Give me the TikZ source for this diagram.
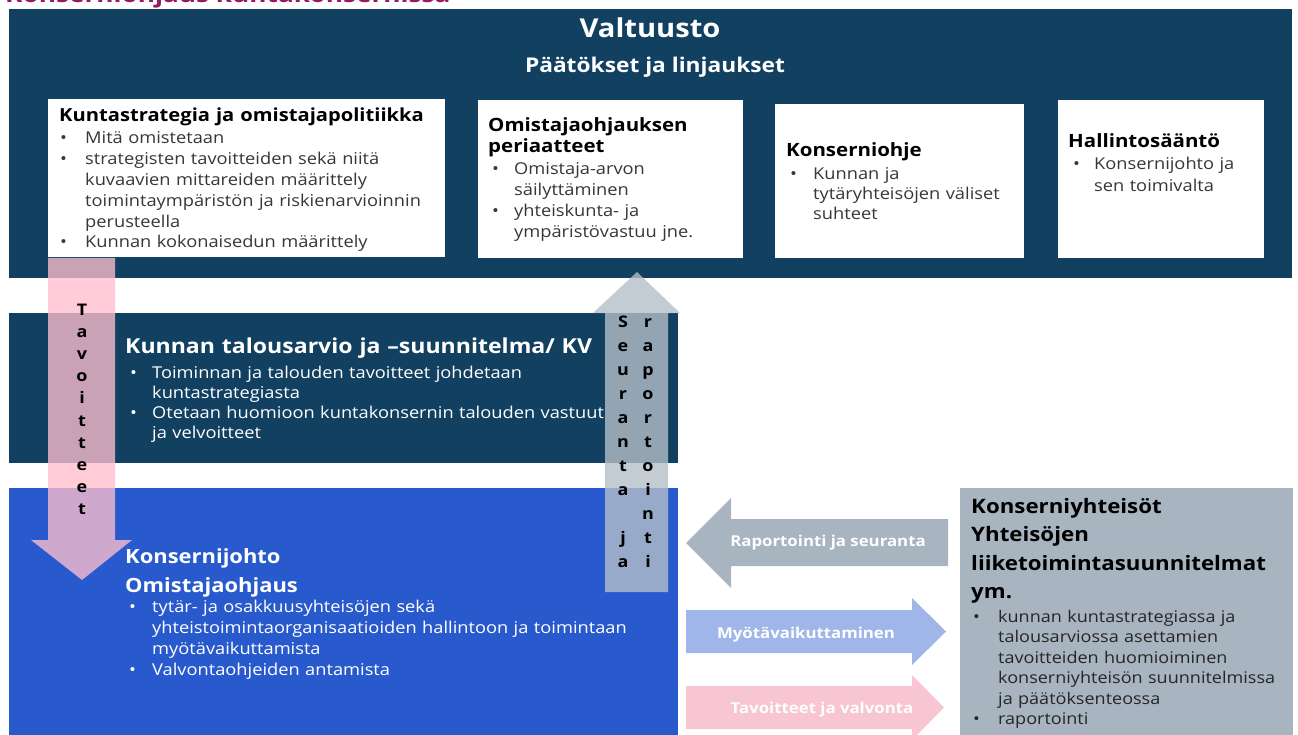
\documentclass[tikz,border=0pt]{standalone}
\usepackage{fontspec}
\setmainfont{Open Sans}[FakeStretch=1.12]
\definecolor{cNavy}{RGB}{17,64,97}
\definecolor{cBlue}{RGB}{40,90,205}
\definecolor{cGreyBox}{RGB}{168,180,192}
\definecolor{cLightBlue}{RGB}{160,182,232}
\definecolor{cPink}{RGB}{248,197,210}
\definecolor{cPinkA}{RGB}{255,190,205}
\definecolor{cGreyA}{RGB}{180,190,200}
\definecolor{cMagenta}{RGB}{150,25,95}
\definecolor{cBody}{RGB}{55,55,55}
\newcommand\fsz[2]{\fontsize{#1}{#2}\selectfont}
\newcommand\bi[2]{\hangindent=#1pt\hangafter=1\noindent\makebox[#1pt][l]{•}#2\par}
\tikzset{
  panel/.style={rectangle, anchor=north west, inner sep=0pt, outer sep=0pt, draw=none},
  txt/.style={anchor=base west, inner sep=0pt, text width=600pt, align=left},
  ctxt/.style={anchor=base, inner sep=0pt},
  vlet/.style={anchor=base, inner sep=0pt, font=\bfseries\fsz{16}{17}, text=black},
  albl/.style={anchor=base, inner sep=0pt, font=\bfseries\fsz{15}{17}, text=white}
}
\begin{document}
\begin{tikzpicture}[x=1pt,y=-1pt]
\useasboundingbox (0,0) rectangle (1298,735);
\clip (0,0) rectangle (1298,735);
\fill[white] (0,0) rectangle (1298,735);

% page title (cut off at the top, as in the reference)
\node[anchor=base west, inner sep=0pt, font=\bfseries\fsz{23.4}{26}, text=cMagenta] (pagetitle) at (5,2.5) {Konserniohjaus kuntakonsernissa};

% panels
\node[panel, fill=cNavy, minimum width=1283pt, minimum height=269pt] (valt) at (9,9) {};
\node[panel, fill=white, minimum width=397pt, minimum height=158pt] (b1) at (48,99) {};
\node[panel, fill=white, minimum width=265pt, minimum height=158pt] (b2) at (478,100) {};
\node[panel, fill=white, minimum width=249pt, minimum height=154pt] (b3) at (775,104) {};
\node[panel, fill=white, minimum width=206pt, minimum height=158pt] (b4) at (1058,100) {};
\node[panel, fill=cNavy, minimum width=669pt, minimum height=150pt] (kv) at (9,313) {};
\node[panel, fill=cBlue, minimum width=669pt, minimum height=260pt] (kj) at (9,488) {};
\node[panel, fill=cGreyBox, minimum width=333pt, minimum height=260pt] (ky) at (960,488) {};

% Valtuusto
\node[ctxt, font=\bfseries\fsz{26}{30}, text=white] (valtT) at (650,38) {Valtuusto};
\node[ctxt, font=\bfseries\fsz{20.3}{24}, text=white] (valtS) at (655,73) {Päätökset ja linjaukset};

% box 1
\node[txt, font=\bfseries\fsz{18}{21}, text=black] (b1t) at (59,122) {Kuntastrategia ja omistajapolitiikka};
\node[txt, font=\fsz{16.3}{20.8}, text=cBody] (b1l) at (60,144) {\bi{25}{Mitä omistetaan}\bi{25}{strategisten tavoitteiden sekä niitä\newline kuvaavien mittareiden määrittely\newline toimintaympäristön ja riskienarvioinnin\newline perusteella}\bi{25}{Kunnan kokonaisedun määrittely}};

% box 2
\node[txt, font=\bfseries\fsz{18.3}{21}, text=black] (b2t) at (488,132) {Omistajaohjauksen\newline periaatteet};
\node[txt, font=\fsz{16.3}{21}, text=cBody] (b2l) at (492,175) {\bi{22}{Omistaja-arvon\newline säilyttäminen}\bi{22}{yhteiskunta- ja\newline ympäristövastuu jne.}};

% box 3
\node[txt, font=\bfseries\fsz{18.3}{21}, text=black] (b3t) at (786,157) {Konserniohje};
\node[txt, font=\fsz{16.3}{20}, text=cBody] (b3l) at (790,180) {\bi{23}{Kunnan ja\newline tytäryhteisöjen väliset\newline suhteet}};

% box 4
\node[txt, font=\bfseries\fsz{18.3}{21}, text=black] (b4t) at (1068,148) {Hallintosääntö};
\node[txt, font=\fsz{16.3}{22}, text=cBody] (b4l) at (1073,170) {\bi{21}{Konsernijohto ja\newline sen toimivalta}};

% KV
\node[txt, font=\bfseries\fsz{20.6}{24}, text=white] (kvt) at (125,353) {Kunnan talousarvio ja –suunnitelma/ KV};
\node[txt, font=\fsz{16.3}{20}, text=white] (kvl) at (130,378) {\bi{22}{Toiminnan ja talouden tavoitteet johdetaan\newline kuntastrategiasta}\bi{22}{Otetaan huomioon kuntakonsernin talouden vastuut\newline ja velvoitteet}};

% Konsernijohto
\node[txt, font=\bfseries\fsz{19.6}{29}, text=white] (kjt) at (125,563) {Konsernijohto\newline Omistajaohjaus};
\node[txt, font=\fsz{16.3}{21}, text=white] (kjl) at (129,612) {\bi{23}{tytär- ja osakkuusyhteisöjen sekä\newline yhteistoimintaorganisaatioiden hallintoon ja toimintaan\newline myötävaikuttamista}\bi{23}{Valvontaohjeiden antamista}};

% Konserniyhteisot
\node[txt, font=\bfseries\fsz{19.9}{28.5}, text=black] (kyt) at (971,513) {Konserniyhteisöt\newline Yhteisöjen\newline liiketoimintasuunnitelmat\newline ym.};
\node[txt, font=\fsz{16.1}{20.5}, text=black!85] (kyl) at (973,622) {\bi{25}{kunnan kuntastrategiassa ja\newline talousarviossa asettamien\newline tavoitteiden huomioiminen\newline konserniyhteisön suunnitelmissa\newline ja päätöksenteossa}\bi{25}{raportointi}};

% vertical arrows
\fill[cPinkA, fill opacity=0.78] (48,258) -- (115,258) -- (115,540) -- (132,540) -- (82,580) -- (31,540) -- (48,540) -- cycle;
\fill[cGreyA, fill opacity=0.8] (605,592) -- (668,592) -- (668,313) -- (680,313) -- (637,272) -- (593,313) -- (605,313) -- cycle;

\foreach \c [count=\i from 0] in {T,a,v,o,i,t,t,e,e,t}
  \node[vlet] (tv\i) at (82,{315+22.2*\i}) {\c};
\foreach \c [count=\i from 0] in {S,e,u,r,a,n,t,a,{},j,a}
  \node[vlet] (sl\i) at (623,{327+24*\i}) {\c};
\foreach \c [count=\i from 0] in {r,a,p,o,r,t,o,i,n,t,i}
  \node[vlet] (sr\i) at (648,{327+24*\i}) {\c};

% horizontal arrows
\fill[cGreyBox] (948,519) -- (731,519) -- (731,498) -- (686,543) -- (731,588) -- (731,566) -- (948,566) -- cycle;
\fill[cLightBlue] (686,610) -- (912,610) -- (912,598) -- (946,631.5) -- (912,665) -- (912,653) -- (686,653) -- cycle;
\fill[cPink] (686,686) -- (912,686) -- (912,675) -- (944,707.5) -- (912,740) -- (912,729) -- (686,729) -- cycle;

\node[albl] (rs) at (828,546) {Raportointi ja seuranta};
\node[albl] (mv) at (806,638) {Myötävaikuttaminen};
\node[albl] (tj) at (822,713) {Tavoitteet ja valvonta};
\end{tikzpicture}
\end{document}
